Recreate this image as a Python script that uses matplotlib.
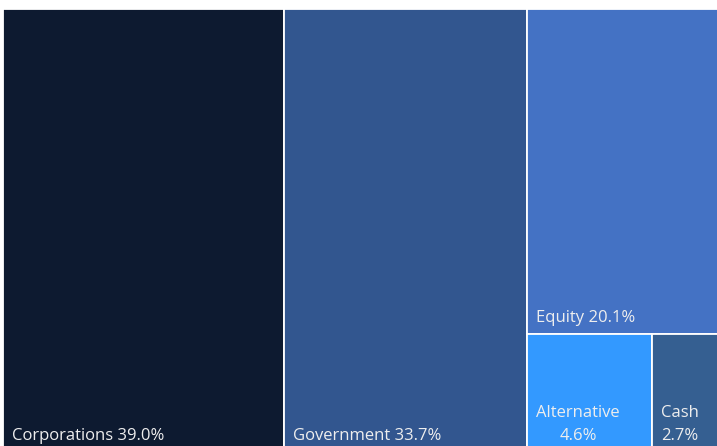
import matplotlib
matplotlib.use("Agg")
import matplotlib.pyplot as plt
from matplotlib.patches import Rectangle

# data
labels = ["Corporations", "Government", "Equity", "Alternative", "Cash"]
values = [39.0, 33.7, 20.1, 4.6, 2.7]
colors = ["#0d1a30", "#32568f", "#4472c4", "#3399ff", "#355f91"]

W, H = 717, 446
X0, Y0, TW, TH = 3, 9, 722, 443  # treemap area in pixels (slightly clipped)


def split(items, x, y, w, h, horizontal):
    """Slice items along one direction proportional to values."""
    total = sum(v for _, v in items)
    out = []
    pos = x if horizontal else y
    for key, v in items:
        if horizontal:
            ww = w * v / total
            out.append((key, pos, y, ww, h))
            pos += ww
        else:
            hh = h * v / total
            out.append((key, x, pos, w, hh))
            pos += hh
    return out


rects = {}
cols = split([(0, values[0]), (1, values[1]), ("rest", sum(values[2:]))],
             X0, Y0, TW, TH, True)
for key, x, y, w, h in cols:
    if key != "rest":
        rects[key] = (x, y, w, h)
        continue
    rows = split([(2, values[2]), ("small", values[3] + values[4])], x, y, w, h, False)
    for k2, x2, y2, w2, h2 in rows:
        if k2 != "small":
            rects[k2] = (x2, y2, w2, h2)
        else:
            for k3, x3, y3, w3, h3 in split([(3, values[3]), (4, values[4])],
                                              x2, y2, w2, h2, True):
                rects[k3] = (x3, y3, w3, h3)

fig = plt.figure(figsize=(W / 100, H / 100), dpi=100)
ax = fig.add_axes([0, 0, 1, 1])
ax.set_xlim(0, W)
ax.set_ylim(H, 0)
ax.axis("off")

for i, (lab, val) in enumerate(zip(labels, values)):
    x, y, w, h = rects[i]
    ax.add_patch(Rectangle((x, y), w, h, facecolor=colors[i],
                           edgecolor="white", linewidth=1.3))
    if i < 3:
        txt = f"{lab} {val:.1f}%"
    else:
        txt = f"{lab}\n{val:.1f}%"
    ax.text(x + 9, y + h - 12, txt, color="#eeeeee", fontsize=12,
            ha="left", va="baseline", multialignment="center",
            linespacing=1.6, family=["Open Sans", "DejaVu Sans"])

fig.savefig("out.png", dpi=100)
